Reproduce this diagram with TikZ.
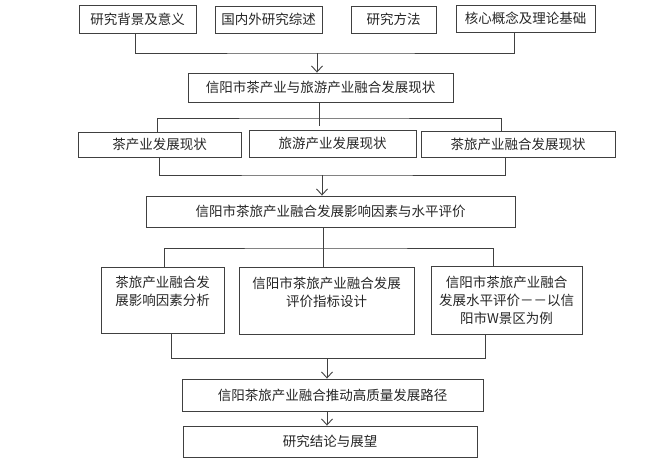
\documentclass[tikz,border=0pt]{standalone}
\usepackage{fontspec}
\setmainfont{Noto Sans CJK SC}
\usetikzlibrary{arrows.meta}
\begin{document}
\begin{tikzpicture}[x=1pt,y=-1pt,
  box/.style={draw=black!75, line width=0.9pt, text=black!85, inner sep=0pt,
    align=center, font=\fontsize{13.5}{18}\selectfont},
  conn/.style={draw=black!75, line width=0.9pt},
  arr/.style={conn, -{Straight Barb[length=6pt,width=11pt]}}]
\useasboundingbox[fill=white] (0,0) rectangle (666,467);
% row 1
\node[box, minimum width=117pt, minimum height=28pt] (b1) at (137.5,19) {研究背景及意义};
\node[box, minimum width=107pt, minimum height=27pt] (b2) at (268.5,19.5) {国内外研究综述};
\node[box, minimum width=85pt, minimum height=27pt] (b3) at (393.5,19.5) {研究方法};
\node[box, minimum width=139pt, minimum height=27pt] (b4) at (525.5,18.5) {核心概念及理论基础};
% row 2
\node[box, minimum width=265pt, minimum height=29pt] (b5) at (320.5,87.5) {信阳市茶产业与旅游产业融合发展现状};
% row 3
\node[box, minimum width=163pt, minimum height=25pt] (b6) at (159.5,144.5) {茶产业发展现状};
\node[box, minimum width=167pt, minimum height=27pt] (b7) at (332.5,143.5) {旅游产业发展现状};
\node[box, minimum width=194pt, minimum height=26pt] (b8) at (518,144) {茶旅产业融合发展现状};
% row 4
\node[box, minimum width=369pt, minimum height=31pt] (b9) at (330.5,211.5) {信阳市茶旅产业融合发展影响因素与水平评价};
% row 5
\node[box, minimum width=123pt, minimum height=66pt] (b10) at (162.5,300) {茶旅产业融合发\\展影响因素分析\\\mbox{}};
\node[box, minimum width=175pt, minimum height=67pt] (b11) at (326.5,300.5) {信阳市茶旅产业融合发展\\评价指标设计\\\mbox{}};
\node[box, minimum width=151pt, minimum height=68pt] (b12) at (506.5,300) {信阳市茶旅产业融合\\发展水平评价－－以信\\阳市W景区为例};
% row 6, 7
\node[box, minimum width=301pt, minimum height=32pt] (b13) at (332.5,395) {信阳茶旅产业融合推动高质量发展路径};
\node[box, minimum width=294pt, minimum height=31pt] (b14) at (330,441.5) {研究结论与展望};
% junctions
\coordinate (j1) at (317,53);
\coordinate (j2) at (319,118);
\coordinate (j2b) at (319,126);
\coordinate (j3) at (322,175);
\coordinate (j4) at (323,248);
\coordinate (j5) at (327,358);
% connectors
\draw[conn] ([xshift=-2.5pt]b1.south) |- (j1) -| ([xshift=-11.5pt]b4.south);
\draw[arr] (j1) -- (j1 |- b5.north);
\draw[conn] (j2 |- b5.south) -- (j2b);
\draw[conn] ([xshift=-2.5pt]b6.north) |- (j2) -| ([xshift=-17pt]b8.north);
\draw[conn] ([xshift=-0.5pt]b6.south) |- (j3) -| ([xshift=-13pt]b8.south);
\draw[arr] (j3) -- (j3 |- b9.north);
\draw[conn] (j4 |- b9.south) -- (j4 |- b11.north);
\draw[conn] ([xshift=1.5pt]b10.north) |- (j4) -| ([xshift=-13.5pt]b12.north);
\draw[conn] ([xshift=8.5pt]b10.south) |- (j5) -| ([xshift=-21.5pt]b12.south);
\draw[arr] (j5) -- (j5 |- b13.north);
\draw[arr] (j5 |- b13.south) -- (j5 |- b14.north);
\end{tikzpicture}
\end{document}
